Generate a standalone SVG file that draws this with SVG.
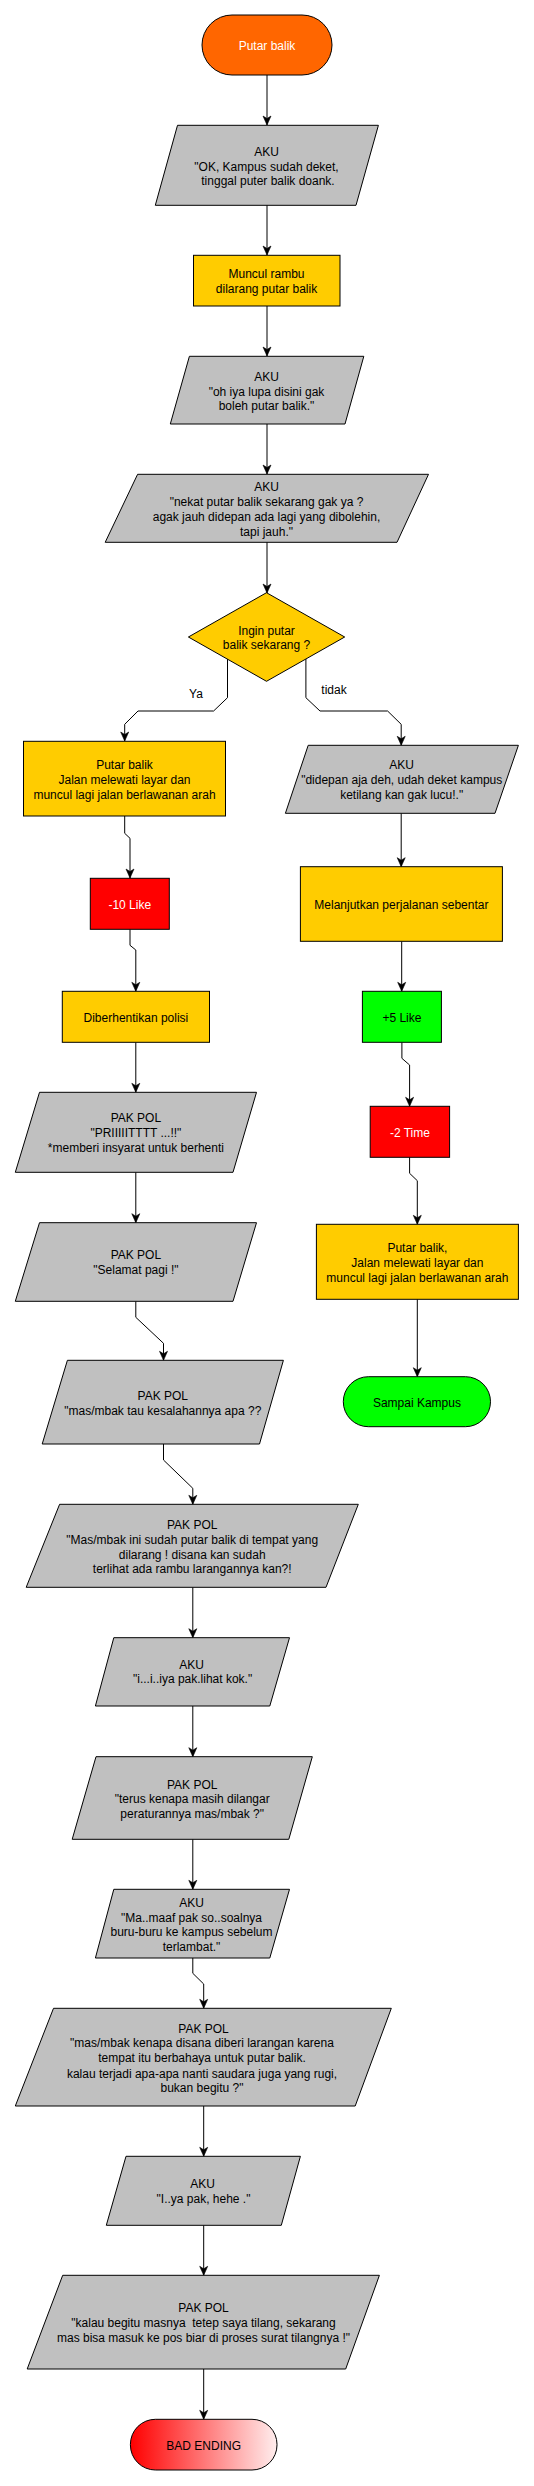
<svg xmlns="http://www.w3.org/2000/svg" width="534" height="2486" viewBox="0 0 534 2486">
<style>
text{font-family:"Liberation Sans",Arial,Helvetica,sans-serif;font-size:12px;fill:#000;text-anchor:middle}
.w{fill:#fff}
.n{stroke:#000;stroke-width:1}
.g{fill:#C0C0C0}
.y{fill:#FFCC00}
.r{fill:#FF0000}
.gr{fill:#00FF00}
.o{fill:#FF6600}
.e{fill:none;stroke:#000;stroke-width:1;marker-end:url(#arr)}
</style>
<defs>
<marker id="arr" viewBox="-10 -6 11 12" refX="0" refY="0" markerWidth="11" markerHeight="12" markerUnits="userSpaceOnUse" orient="auto">
<path d="M-9,-4 L0,0 L-9,4 L-6.5,0 Z" fill="#000" stroke="#000" stroke-width="0.6"/>
</marker>
<linearGradient id="bad" x1="0" y1="0" x2="1" y2="0">
<stop offset="0" stop-color="#FF0000"/>
<stop offset="1" stop-color="#FFEEEE"/>
</linearGradient>
</defs>
<rect width="534" height="2486" fill="#fff"/>

<g id="connectors">
<path class="e" d="M267,75 V125"/>
<path class="e" d="M267,205 V255"/>
<path class="e" d="M267,306 V356"/>
<path class="e" d="M267,424 V474"/>
<path class="e" d="M267,542 V593"/>
<path class="e" d="M227.5,659 V697.7 L213.6,711 H138 L124.7,724.3 V741"/>
<path class="e" d="M305.9,659 V697.7 L320,711 H387.6 L401.2,724.3 V745.3"/>
<path class="e" d="M124.7,816 V833.3 L130,838.3 V878"/>
<path class="e" d="M130,929.3 V945.3 L135.8,950 V991.3"/>
<path class="e" d="M135.8,1042.3 V1092.3"/>
<path class="e" d="M135.8,1172.3 V1222.7"/>
<path class="e" d="M135.8,1301.3 V1317.3 L163.5,1343.3 V1360.3"/>
<path class="e" d="M163.5,1444 V1460 L192.8,1488.3 V1504.3"/>
<path class="e" d="M192.8,1587.3 V1637.7"/>
<path class="e" d="M192.8,1706 V1756.7"/>
<path class="e" d="M192.8,1839.3 V1889.3"/>
<path class="e" d="M192.8,1958 V1973.3 L203.7,1984 V2008.3"/>
<path class="e" d="M203.7,2106 V2156.3"/>
<path class="e" d="M203.7,2225.3 V2275.3"/>
<path class="e" d="M203.7,2369 V2419.3"/>
<path class="e" d="M401.2,813.3 V866.7"/>
<path class="e" d="M401.7,941.3 V991.3"/>
<path class="e" d="M401.9,1042.3 V1058.3 L409.6,1065 V1106.3"/>
<path class="e" d="M409.6,1157.3 V1173.3 L417.3,1180.7 V1224.3"/>
<path class="e" d="M417.3,1299.3 V1376.7"/>
<text x="196" y="698">Ya</text>
<text x="334" y="693.5">tidak</text>
</g>

<g id="start">
<rect class="n o" x="202" y="15" width="130" height="60" rx="30" ry="30"/>
<text class="w" x="267" y="50">Putar balik</text>
</g>

<g id="aku1">
<polygon class="n g" points="177.5,125.3 378.4,125.3 356,205.3 155.3,205.3"/>
<text x="266.5" y="156">AKU</text>
<text x="266.5" y="170.5">"OK, Kampus sudah deket,</text>
<text x="268" y="185">tinggal puter balik doank.</text>
</g>

<g id="rambu">
<rect class="n y" x="193.5" y="255.3" width="146.5" height="50.7"/>
<text x="266.5" y="278">Muncul rambu</text>
<text x="266.5" y="293">dilarang putar balik</text>
</g>

<g id="aku2">
<polygon class="n g" points="189.4,356.3 363.8,356.3 345,424 170.3,424"/>
<text x="266.5" y="381">AKU</text>
<text x="266.5" y="395.5">"oh iya lupa disini gak</text>
<text x="266.5" y="410">boleh putar balik."</text>
</g>

<g id="aku3">
<polygon class="n g" points="137.6,474.3 428.5,474.3 397,542.3 105.2,542.3"/>
<text x="266.5" y="490.5">AKU</text>
<text x="266.5" y="505.5">"nekat putar balik sekarang gak ya ?</text>
<text x="266.5" y="520.5">agak jauh didepan ada lagi yang dibolehin,</text>
<text x="266.5" y="535.5">tapi jauh."</text>
</g>

<g id="decision">
<polygon class="n y" points="266.5,592.7 344.7,637 266.5,681.3 188.4,637"/>
<text x="266.5" y="635">Ingin putar</text>
<text x="266.5" y="649">balik sekarang ?</text>
</g>

<g id="putarbalik1">
<rect class="n y" x="23.5" y="741.3" width="202" height="74.7"/>
<text x="124.5" y="768.5">Putar balik</text>
<text x="124.5" y="784">Jalan melewati layar dan</text>
<text x="124.5" y="799">muncul lagi jalan berlawanan arah</text>
</g>

<g id="aku4">
<polygon class="n g" points="308.2,745.3 518.4,745.3 495,813.3 285.4,813.3"/>
<text x="401.7" y="768.5">AKU</text>
<text x="401.7" y="784">"didepan aja deh, udah deket kampus</text>
<text x="401.7" y="799">ketilang kan gak lucu!."</text>
</g>

<g id="minus10">
<rect class="n r" x="90.3" y="878.3" width="79" height="51"/>
<text class="w" x="129.8" y="908.5">-10 Like</text>
</g>

<g id="melanjutkan">
<rect class="n y" x="300.4" y="866.7" width="202" height="74.6"/>
<text x="401.4" y="908.5">Melanjutkan perjalanan sebentar</text>
</g>

<g id="polisi">
<rect class="n y" x="62.3" y="991.3" width="147.2" height="51"/>
<text x="135.9" y="1022">Diberhentikan polisi</text>
</g>

<g id="plus5">
<rect class="n gr" x="362.4" y="991.3" width="79" height="51"/>
<text x="401.9" y="1022">+5 Like</text>
</g>

<g id="pakpol1">
<polygon class="n g" points="39.5,1092.3 256.5,1092.3 233,1172.3 15.3,1172.3"/>
<text x="135.9" y="1121.5">PAK POL</text>
<text x="135.9" y="1137">"PRIIIIITTTT ...!!"</text>
<text x="135.9" y="1151.5">*memberi insyarat untuk berhenti</text>
</g>

<g id="minus2">
<rect class="n r" x="370.2" y="1106.3" width="79.4" height="51"/>
<text class="w" x="409.9" y="1137">-2 Time</text>
</g>

<g id="pakpol2">
<polygon class="n g" points="39.5,1222.7 256.5,1222.7 233,1301.3 15.3,1301.3"/>
<text x="135.9" y="1258.5">PAK POL</text>
<text x="135.9" y="1274">"Selamat pagi !"</text>
</g>

<g id="putarbalik2">
<rect class="n y" x="316.4" y="1224.3" width="202" height="75"/>
<text x="417.4" y="1251.5">Putar balik,</text>
<text x="417.4" y="1266.5">Jalan melewati layar dan</text>
<text x="417.4" y="1281.5">muncul lagi jalan berlawanan arah</text>
</g>

<g id="sampai">
<rect class="n gr" x="343.3" y="1376.7" width="147.2" height="50" rx="25" ry="25"/>
<text x="416.9" y="1406.5">Sampai Kampus</text>
</g>

<g id="pakpol3">
<polygon class="n g" points="67.4,1360.3 283.4,1360.3 259.5,1444 42.2,1444"/>
<text x="162.8" y="1400">PAK POL</text>
<text x="162.8" y="1414.5">"mas/mbak tau kesalahannya apa ??</text>
</g>

<g id="pakpol4">
<polygon class="n g" points="59.6,1504.3 358.3,1504.3 326,1587.3 26.2,1587.3"/>
<text x="192.2" y="1529">PAK POL</text>
<text x="192.2" y="1543.5">"Mas/mbak ini sudah putar balik di tempat yang</text>
<text x="192.2" y="1558.5">dilarang ! disana kan sudah</text>
<text x="192.2" y="1573">terlihat ada rambu larangannya kan?!</text>
</g>

<g id="aku5">
<polygon class="n g" points="113.8,1637.7 289.5,1637.7 269.8,1706 95.4,1706"/>
<text x="191.5" y="1668.5">AKU</text>
<text x="192.6" y="1683">"i...i..iya pak.lihat kok."</text>
</g>

<g id="pakpol5">
<polygon class="n g" points="96,1756.7 312.3,1756.7 288.8,1839.3 72.2,1839.3"/>
<text x="192.2" y="1788.5">PAK POL</text>
<text x="192.2" y="1803">"terus kenapa masih dilangar</text>
<text x="192.2" y="1817.5">peraturannya mas/mbak ?"</text>
</g>

<g id="aku6">
<polygon class="n g" points="113.8,1889.3 289.5,1889.3 269.8,1958 95.4,1958"/>
<text x="191.5" y="1906.5">AKU</text>
<text x="191.5" y="1921.5">"Ma..maaf pak so..soalnya</text>
<text x="191.5" y="1936">buru-buru ke kampus sebelum</text>
<text x="191.5" y="1951">terlambat."</text>
</g>

<g id="pakpol6">
<polygon class="n g" points="53.5,2008.3 391.3,2008.3 355.2,2106 15.3,2106"/>
<text x="203.5" y="2032.5">PAK POL</text>
<text x="202" y="2047">"mas/mbak kenapa disana diberi larangan karena</text>
<text x="202" y="2062">tempat itu berbahaya untuk putar balik.</text>
<text x="202" y="2077.5">kalau terjadi apa-apa nanti saudara juga yang rugi,</text>
<text x="202" y="2091.5">bukan begitu ?"</text>
</g>

<g id="aku7">
<polygon class="n g" points="126,2156.3 300.4,2156.3 281.3,2225.3 106.3,2225.3"/>
<text x="202.5" y="2187.5">AKU</text>
<text x="203.5" y="2203">"I..ya pak, hehe ."</text>
</g>

<g id="pakpol7">
<polygon class="n g" points="62.7,2275.3 379.4,2275.3 345.7,2369 27.2,2369"/>
<text x="203.5" y="2312">PAK POL</text>
<text x="203.5" y="2327" xml:space="preserve">"kalau begitu masnya  tetep saya tilang, sekarang</text>
<text x="203.5" y="2342">mas bisa masuk ke pos biar di proses surat tilangnya !"</text>
</g>

<g id="badending">
<rect class="n" fill="url(#bad)" x="130.4" y="2419.3" width="146.6" height="50.7" rx="25" ry="25"/>
<text x="203.7" y="2449.5">BAD ENDING</text>
</g>
</svg>
